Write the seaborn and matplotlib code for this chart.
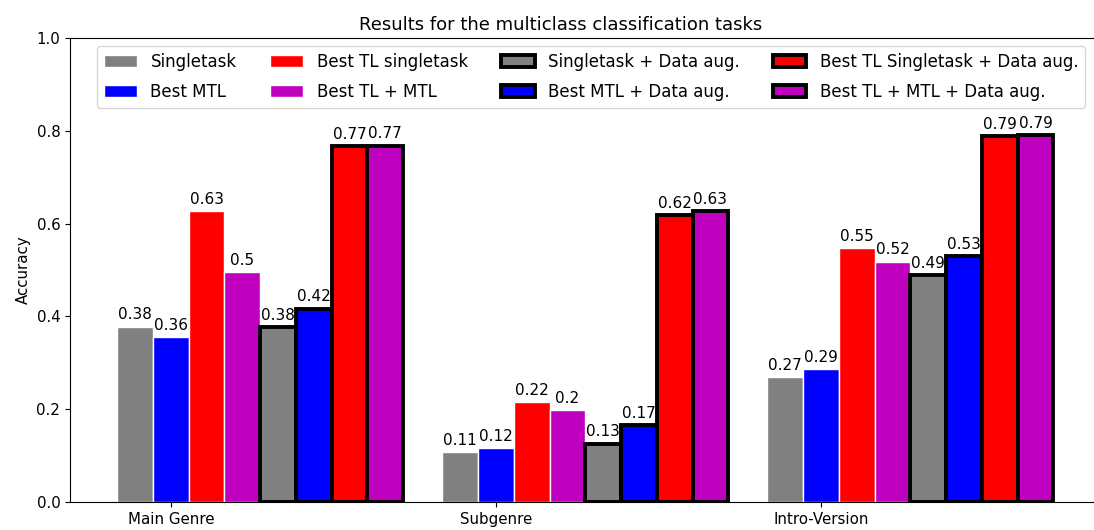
import pandas as pd
import seaborn as sns
import matplotlib.pyplot as plt

tasks = ['Main Genre', 'Subgenre', 'Intro-Version']
methods = ['Singletask', 'Best MTL', 'Best TL singletask', 'Best TL + MTL',
           'Singletask + Data aug.', 'Best MTL + Data aug.',
           'Best TL Singletask + Data aug.', 'Best TL + MTL + Data aug.']
colors = ['#808080', '#0000ff', '#ff0000', '#bf00bf',
          '#808080', '#0000ff', '#ff0000', '#bf00bf']

main_genre = [0.378, 0.356, 0.627, 0.496, 0.377, 0.417, 0.767, 0.768]
subgenre = [0.108, 0.117, 0.216, 0.198, 0.126, 0.166, 0.618, 0.627]
intro_version = [0.269, 0.287, 0.547, 0.518, 0.489, 0.53, 0.789, 0.79]

rows = []
for task, vals in zip(tasks, [main_genre, subgenre, intro_version]):
    for m, v in zip(methods, vals):
        rows.append({'task': task, 'method': m, 'acc': v})
df = pd.DataFrame(rows)

fig = plt.figure(figsize=(10.94, 5.30), dpi=100)
ax = fig.add_axes([70 / 1094, 28 / 530, 1042 / 1094, 464 / 530])

sns.barplot(data=df, x='task', y='acc', hue='method', hue_order=methods,
            palette=colors, saturation=1, width=0.88, legend=False, ax=ax)

for i, cont in enumerate(ax.containers):
    aug = i >= 4
    for p in cont.patches:
        p.set_edgecolor('black' if aug else 'white')
        p.set_linewidth(2.8 if aug else 1.0)
    vals = [p.get_height() for p in cont.patches]
    ax.bar_label(cont, labels=[str(round(v, 2)) for v in vals],
                 padding=3, fontsize=11)

# ticks sit under the second bar of each group
ax.set_xticks([i - 0.275 for i in range(len(tasks))])
ax.set_xticklabels(tasks)
ax.set_xlim(-0.585, 2.62)
ax.set_ylim(0, 1.0)
ax.spines['right'].set_visible(False)
ax.tick_params(labelsize=10.8)
ax.set_xlabel('')
ax.set_ylabel('Accuracy', fontsize=10.8)
ax.set_title('Results for the multiclass classification tasks', fontsize=13, x=0.471)

ax.legend(ax.containers, methods, ncol=4, loc='upper center', fontsize=12,
          labelspacing=0.72)

plt.savefig('out.png', dpi=100)
